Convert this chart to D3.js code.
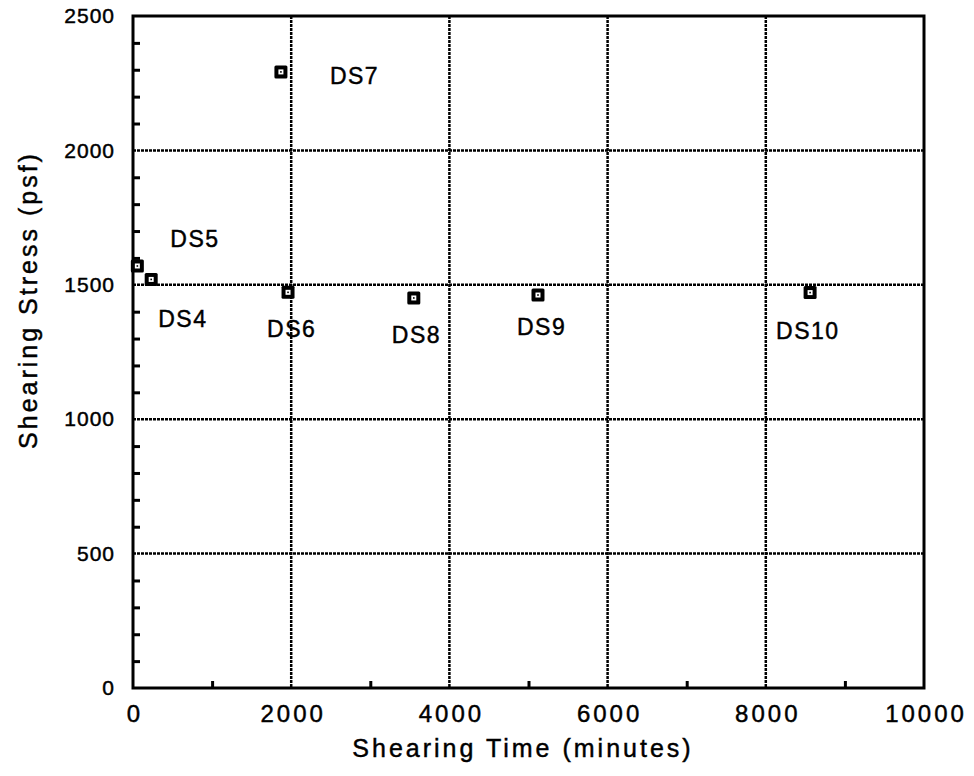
<!DOCTYPE html>
<html>
<head>
<meta charset="utf-8">
<script src="https://cdn.jsdelivr.net/npm/d3@7/dist/d3.min.js"></script>
<style>
  html, body { margin: 0; padding: 0; background: #fff; }
  svg text { font-family: "Liberation Sans", Arial, sans-serif; fill: #000; stroke: #000; stroke-width: 0.45px; }
</style>
</head>
<body>
<div id="chart"></div>
<script>
// --------------- Data ---------------
const tests = ["DS4", "DS5", "DS6", "DS7", "DS8", "DS9", "DS10"];
const shearTime = [230, 55, 1960, 1870, 3550, 5120, 8560];      // minutes
const shearStress = [1520, 1570, 1472, 2292, 1451, 1462, 1471]; // psf
const xTicks = [0, 2000, 4000, 6000, 8000, 10000];
const yTicks = [0, 500, 1000, 1500, 2000, 2500];

// label placement relative to each marker (px)
const labelOffset = {
  DS4: [7, 48], DS5: [33, -19], DS6: [-21, 45], DS7: [49, 12],
  DS8: [-22, 45], DS9: [-21, 40], DS10: [-34, 46]
};

const WIDTH = 974;
const HEIGHT = 776;
const margin = { left: 133, right: 50, top: 16, bottom: 88 };

const svg = d3.select("#chart").append("svg")
  .attr("width", WIDTH)
  .attr("height", HEIGHT);

const x = d3.scaleLinear().domain([0, 10000]).range([margin.left, WIDTH - margin.right]);
const y = d3.scaleLinear().domain([0, 2500]).range([HEIGHT - margin.bottom, margin.top]);

const [x0, x1] = x.range();
const [y0, y1] = y.range();

// --------------- Grid ---------------
const grid = svg.append("g")
  .attr("stroke", "#000")
  .attr("stroke-width", 2.5)
  .attr("stroke-dasharray", "3,1");

grid.selectAll("line.v")
  .data(xTicks.slice(1, -1))
  .join("line")
  .attr("x1", d => x(d)).attr("x2", d => x(d))
  .attr("y1", y1).attr("y2", y0);

grid.selectAll("line.h")
  .data(yTicks.slice(1, -1))
  .join("line")
  .attr("x1", x0).attr("x2", x1)
  .attr("y1", d => y(d)).attr("y2", d => y(d));

// --------------- Axes ---------------
const xAxis = d3.axisBottom(x)
  .tickValues(d3.range(0, 10001, 1000))
  .tickSize(-7)
  .tickFormat(d => (d % 2000 === 0 ? d : ""));

const gx = svg.append("g")
  .attr("transform", `translate(0,${y0})`)
  .call(xAxis);
gx.select(".domain").remove();
gx.selectAll(".tick line")
  .attr("stroke-width", 3)
  .attr("display", d => (d % 2000 === 0 ? "none" : null));
gx.selectAll(".tick text")
  .attr("y", 17)
  .attr("dx", 1.5)
  .attr("dy", "0.71em")
  .attr("font-size", 24)
  .attr("letter-spacing", "3px");

const yAxis = d3.axisLeft(y)
  .tickValues(d3.range(0, 2501, 100))
  .tickSize(-7)
  .tickFormat(d => (d % 500 === 0 ? d : ""));

const gy = svg.append("g")
  .attr("transform", `translate(${x0},0)`)
  .call(yAxis);
gy.select(".domain").remove();
gy.selectAll(".tick line")
  .attr("stroke-width", 3)
  .attr("display", d => (d % 500 === 0 ? "none" : null));
gy.selectAll(".tick text")
  .attr("x", -18)
  .attr("font-size", 21)
  .attr("letter-spacing", "1px");

// frame
svg.append("rect")
  .attr("x", x0).attr("y", y1)
  .attr("width", x1 - x0).attr("height", y0 - y1)
  .attr("fill", "none")
  .attr("stroke", "#000")
  .attr("stroke-width", 3);

// --------------- Markers ---------------
const points = tests.map((name, i) => ({ name, t: shearTime[i], s: shearStress[i] }));

const mk = svg.append("g")
  .selectAll("g")
  .data(points)
  .join("g")
  .attr("transform", d => `translate(${x(d.t)},${y(d.s)})`);

mk.append("rect")
  .attr("x", -6.5).attr("y", -6.5).attr("width", 13).attr("height", 13)
  .attr("rx", 1.5)
  .attr("fill", "#000");
mk.append("rect")
  .attr("x", -2.5).attr("y", -2.5).attr("width", 5).attr("height", 5)
  .attr("fill", "#fff");
mk.append("rect")
  .attr("x", -0.8).attr("y", -0.8).attr("width", 1.6).attr("height", 1.6)
  .attr("fill", "#000");

svg.append("g")
  .selectAll("text")
  .data(points)
  .join("text")
  .attr("x", d => x(d.t) + labelOffset[d.name][0])
  .attr("y", d => y(d.s) + labelOffset[d.name][1])
  .attr("font-size", 23)
  .attr("letter-spacing", "1.5px")
  .text(d => d.name);

// --------------- Titles ---------------
svg.append("text")
  .attr("x", 523)
  .attr("y", 757)
  .attr("text-anchor", "middle")
  .attr("font-size", 25)
  .attr("letter-spacing", "3px")
  .text("Shearing Time (minutes)");

svg.append("text")
  .attr("transform", "translate(37,300) rotate(-90)")
  .attr("text-anchor", "middle")
  .attr("font-size", 25)
  .attr("letter-spacing", "3px")
  .text("Shearing Stress (psf)");
</script>
</body>
</html>
